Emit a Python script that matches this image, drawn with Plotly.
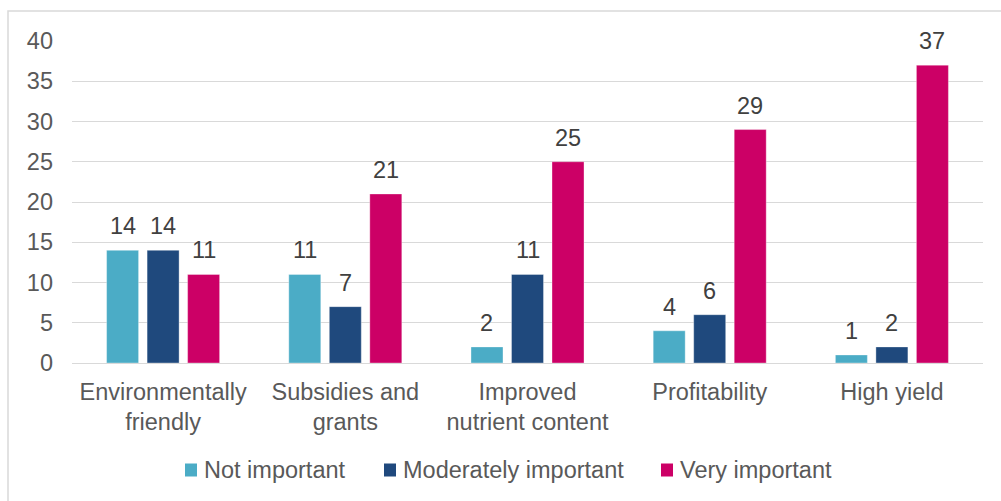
import plotly.graph_objects as go

categories = ["Environmentally<br>friendly", "Subsidies and<br>grants",
              "Improved<br>nutrient content", "Profitability", "High yield"]
series_names = ["Not important", "Moderately important", "Very important"]
not_important = [14, 11, 2, 4, 1]
moderately_important = [14, 7, 11, 6, 2]
very_important = [11, 21, 25, 29, 37]
colors = ["#4BACC6", "#1F497D", "#CC0066"]
y_ticks = [0, 5, 10, 15, 20, 25, 30, 35, 40]

FONT = "Liberation Sans, Arial, sans-serif"
FS = 23.5
W, H = 1001, 501
ML, MR, MT, MB = 72, 18, 41, 138
plot_w = W - ML - MR
plot_h = H - MT - MB

fig = go.Figure()
all_series = [not_important, moderately_important, very_important]
for name, vals, col in zip(series_names, all_series, colors):
    fig.add_trace(go.Bar(
        x=categories, y=vals, name=name, showlegend=False,
        marker=dict(color=col, line=dict(color="rgba(255,255,255,0.35)", width=1)),
    ))

# value labels above each bar
BARGAP = 0.333
cat_w = plot_w / len(categories)
slot = cat_w * (1 - BARGAP) / 3
for i, vals in enumerate(all_series):
    for c, v in zip(categories, vals):
        fig.add_annotation(
            x=c, y=v, text=str(v), showarrow=False,
            xshift=(i - 1) * slot, yshift=24,
            font=dict(family=FONT, size=FS, color="#404040"),
        )

def px_x(p):
    return (p - ML) / plot_w

def px_y(p):
    return (H - MB - p) / plot_h

# outer chart frame
fig.add_shape(type="rect", xref="paper", yref="paper",
              x0=px_x(8), x1=px_x(1003), y0=px_y(11), y1=px_y(503),
              line=dict(color="#D9D9D9", width=1.5), layer="below")

# legend: colour swatch followed by series name
legend_swatch_x = [185, 384, 661]
legend_y = 470
for name, col, sx in zip(series_names, colors, legend_swatch_x):
    fig.add_shape(type="rect", xref="paper", yref="paper",
                  x0=px_x(sx), x1=px_x(sx + 12), y0=px_y(legend_y + 6.5), y1=px_y(legend_y - 6.5),
                  fillcolor=col, line=dict(width=0))
    fig.add_annotation(xref="paper", yref="paper", x=px_x(sx + 17), y=px_y(legend_y),
                       xanchor="left", yanchor="middle", text=name, showarrow=False,
                       font=dict(family=FONT, size=FS, color="#595959"))

fig.update_layout(
    width=W, height=H,
    margin=dict(l=ML, r=MR, t=MT, b=MB),
    paper_bgcolor="white", plot_bgcolor="white",
    barmode="group", bargap=BARGAP, bargroupgap=0.21,
    font=dict(family=FONT, size=FS, color="#595959"),
    showlegend=False,
    xaxis=dict(showgrid=False, showline=False, ticks="", ticklabelstandoff=12,
               tickfont=dict(family=FONT, size=FS, color="#595959")),
    yaxis=dict(range=[0, 40], tickvals=y_ticks, showgrid=True, gridcolor="#D9D9D9",
               gridwidth=1, zeroline=True, zerolinecolor="#D9D9D9", zerolinewidth=1,
               showline=False, ticks="", ticklabelstandoff=18,
               tickfont=dict(family=FONT, size=FS, color="#595959")),
)

fig.write_html("out.html")
